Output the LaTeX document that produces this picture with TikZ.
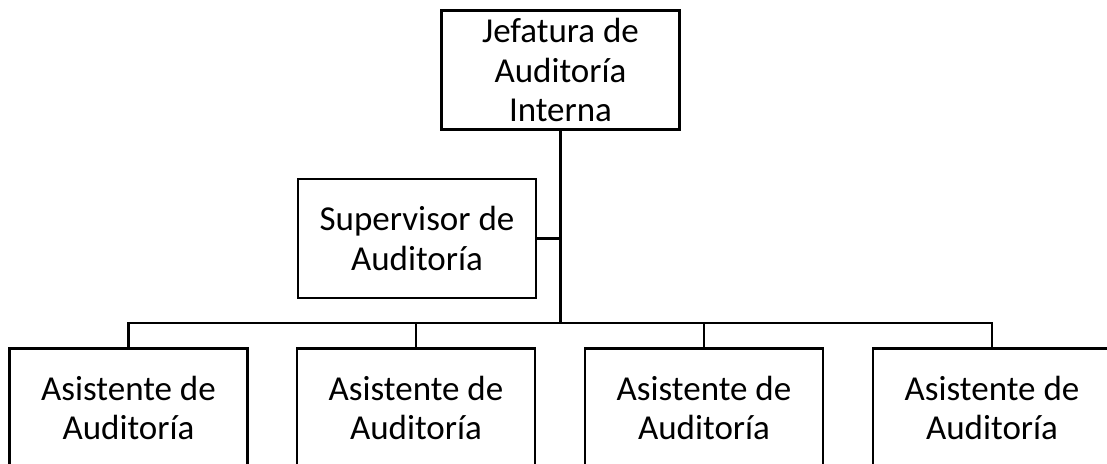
\documentclass[tikz,border=0pt]{standalone}
\usepackage{fontspec}
\setmainfont{Carlito}
\usetikzlibrary{positioning}

\tikzset{
  cargo/.style={draw, line width=2.8pt, align=center, inner sep=0pt,
    minimum width=238pt, minimum height=119pt,
    font=\fontsize{35}{39.5}\selectfont},
  enlace/.style={line width=2.8pt}
}

\begin{document}
\begin{tikzpicture}[x=1pt,y=-1pt]
  \useasboundingbox (0,0) rectangle (1107,463);

  \node[cargo] (jefe) at (560.5,70) {Jefatura de\\Auditoría\\Interna};
  \node[cargo] (sup) at (417,238.5) {Supervisor de\\Auditoría};

  \coordinate (bus) at (560.5,323);

  \node[cargo] (asis1) at (128.5,408) {Asistente de\\Auditoría};
  \node[cargo] (asis2) at (416,408) {Asistente de\\Auditoría};
  \node[cargo] (asis3) at (704,408) {Asistente de\\Auditoría};
  \node[cargo] (asis4) at (992,408) {Asistente de\\Auditoría};

  \draw[enlace] (jefe.south) -- (bus);
  \draw[enlace] (sup.east) -- (sup.east -| bus);
  \draw[enlace] (asis1.north) |- (bus) -| (asis4.north);
  \draw[enlace] (asis2.north) -- (asis2.north |- bus);
  \draw[enlace] (asis3.north) -- (asis3.north |- bus);
\end{tikzpicture}
\end{document}
